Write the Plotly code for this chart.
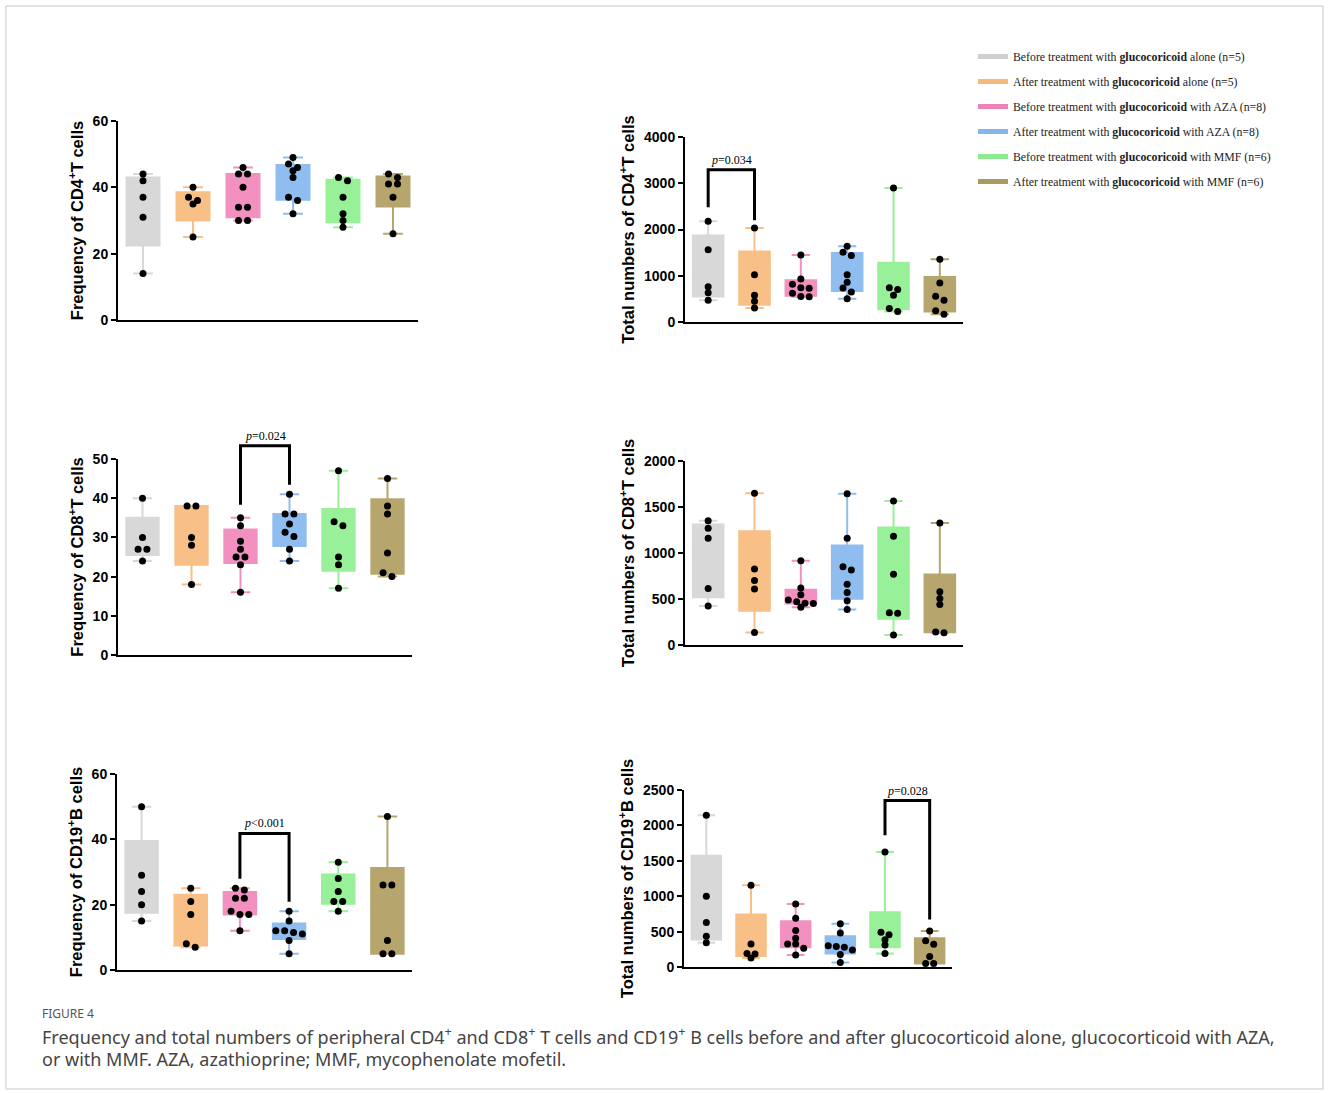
import numpy as np
import plotly.graph_objects as go

W, H = 1330, 1093

# ---------------- data ----------------
group_names = [
    "Before treatment with <b>glucocoricoid</b> alone (n=5)",
    "After treatment with <b>glucocoricoid</b> alone (n=5)",
    "Before treatment with <b>glucocoricoid</b> with AZA (n=8)",
    "After treatment with <b>glucocoricoid</b> with AZA (n=8)",
    "Before treatment with <b>glucocoricoid</b> with MMF (n=6)",
    "After treatment with <b>glucocoricoid</b> with MMF (n=6)",
]
fill_colors = ["#d8d8d8", "#f8bf86", "#f291c0", "#90bdef", "#98f198", "#b6a66e"]
legend_colors = ["#cfcfcf", "#f5b77a", "#ee84b6", "#86b5ea", "#8eea8e", "#a99b5f"]

cd4_freq = [[44, 42, 37, 31, 14], [40, 37, 36, 35, 25], [46, 44, 44, 40, 34, 34, 30, 30],
            [49, 47, 46, 45, 43, 37, 36, 32], [43, 42, 37, 32, 30, 28], [44, 43, 41, 41, 37, 26]]
cd4_total = [[2180, 1560, 760, 630, 470], [2030, 1020, 580, 450, 300],
             [1450, 930, 815, 740, 730, 620, 550, 545], [1640, 1510, 1440, 1020, 860, 735, 650, 505],
             [2900, 740, 700, 580, 290, 225], [1355, 845, 555, 470, 245, 165]]
cd8_freq = [[40, 30, 27, 27, 24], [38, 38, 30, 28, 18], [35, 33, 29, 27, 25, 25, 23, 16],
            [41, 36, 36, 33.4, 31.3, 30.2, 27, 24], [47, 34, 33, 25, 23, 17], [45, 38, 36, 26, 21, 20]]
cd8_total = [[1350, 1270, 1160, 615, 425], [1650, 825, 700, 610, 137],
             [915, 620, 545, 490, 470, 455, 450, 410], [1645, 1160, 850, 815, 660, 570, 480, 387],
             [1565, 1183, 770, 351, 345, 109], [1327, 580, 506, 441, 140, 134]]
cd19_freq = [[50, 29, 24, 20, 15], [25, 21, 17, 8, 7], [25, 24.5, 22, 22, 18, 17, 17, 12],
             [18, 15, 12, 12, 11.5, 11, 9, 5], [33, 28, 24, 21, 21, 18], [47, 26, 26, 9, 5, 5]]
cd19_total = [[2145, 1000, 627, 434, 344], [1155, 325, 190, 185, 127],
              [890, 690, 515, 405, 325, 325, 265, 170], [610, 480, 300, 290, 280, 240, 175, 65],
              [1625, 490, 455, 385, 310, 190], [510, 370, 320, 150, 50, 50]]

y_titles = ["Frequency of CD4<sup>+</sup>T cells", "Total numbers of CD4<sup>+</sup>T cells",
            "Frequency of CD8<sup>+</sup>T cells", "Total numbers of CD8<sup>+</sup>T cells",
            "Frequency of CD19<sup>+</sup>B cells", "Total numbers of CD19<sup>+</sup>B cells"]
y_max = [60, 4000, 50, 2000, 60, 2500]
y_dtick = [20, 1000, 10, 500, 20, 500]

# significance brackets: (panel, left group, right group, left leg end, right leg end, top, label)
brackets = [
    (2, 0, 1, 2480, 2200, 3290, "<i>p</i>=0.034"),
    (3, 2, 3, 38.3, 43.4, 53.4, "<i>p</i>=0.024"),
    (5, 2, 3, 27.9, 20.9, 41.8, "<i>p</i><0.001"),
    (6, 4, 5, 1860, 670, 2350, "<i>p</i>=0.028"),
]

panel_data = [cd4_freq, cd4_total, cd8_freq, cd8_total, cd19_freq, cd19_total]

# ---------------- layout geometry (pixels) ----------------
panel_px = [  # x0, x1, ytop, ybottom
    (118, 418, 121, 320),
    (685, 963, 137, 322),
    (118, 412, 459, 655),
    (685, 963, 461, 645),
    (117, 412, 774, 970),
    (684, 952, 790, 967),
]


def swarm_offsets(vals, ymax):
    vals = np.asarray(vals, dtype=float)
    order = np.argsort(-vals)
    offs = np.zeros(len(vals))
    thr = ymax * 0.025
    clusters = []
    for idx in order:
        if clusters and abs(vals[clusters[-1][0]] - vals[idx]) <= thr:
            clusters[-1].append(idx)
        else:
            clusters.append([idx])
    step = 0.09
    for c in clusters:
        n = len(c)
        for k, idx in enumerate(c):
            offs[idx] = (k - (n - 1) / 2) * 2 * step if n > 1 else 0.0
    return offs


fig = go.Figure()
layout = dict(
    width=W, height=H, autosize=False,
    margin=dict(l=0, r=0, t=0, b=0, autoexpand=False),
    paper_bgcolor="white", plot_bgcolor="white",
    showlegend=True,
)

for p in range(6):
    k = p + 1
    xs = "x" if k == 1 else f"x{k}"
    ys = "y" if k == 1 else f"y{k}"
    x0, x1, yt, yb = panel_px[p]
    data = panel_data[p]
    for g, pts in enumerate(data):
        arr = np.asarray(pts, dtype=float)
        q1 = float(np.percentile(arr, 25, method="weibull"))
        q3 = float(np.percentile(arr, 75, method="weibull"))
        med = float(np.percentile(arr, 50, method="weibull"))
        fig.add_trace(go.Box(
            x=[g], q1=[q1], median=[med], q3=[q3],
            lowerfence=[float(arr.min())], upperfence=[float(arr.max())],
            width=0.66, whiskerwidth=0.6, boxpoints=False,
            fillcolor=fill_colors[g], line=dict(color=fill_colors[g], width=2),
            xaxis=xs, yaxis=ys, showlegend=False, hoverinfo="skip",
        ))
    for g, pts in enumerate(data):
        offs = swarm_offsets(pts, y_max[p])
        fig.add_trace(go.Scatter(
            x=g + offs, y=pts, mode="markers",
            marker=dict(color="black", size=7),
            xaxis=xs, yaxis=ys, showlegend=False, cliponaxis=False, hoverinfo="skip",
        ))
    xkey = "xaxis" if k == 1 else f"xaxis{k}"
    ykey = "yaxis" if k == 1 else f"yaxis{k}"
    layout[xkey] = dict(
        domain=[x0 / W, x1 / W], anchor=ys, range=[-0.5, 5.5], automargin=False,
        showline=True, linecolor="black", linewidth=2, showticklabels=False,
        ticks="", showgrid=False, zeroline=False, fixedrange=True,
    )
    layout[ykey] = dict(
        domain=[1 - yb / H, 1 - yt / H], anchor=xs, range=[0, y_max[p]], automargin=False,
        tickmode="linear", tick0=0, dtick=y_dtick[p],
        showline=True, linecolor="black", linewidth=2,
        ticks="outside", ticklen=5, tickwidth=2, tickcolor="black",
        tickfont=dict(family="Liberation Sans", size=14, color="black", weight="bold"),
        title=dict(text=y_titles[p], standoff=5,
                   font=dict(family="Liberation Sans", size=16.5, color="black", weight="bold")),
        showgrid=False, zeroline=False, fixedrange=True,
    )

# legend entries
for g in range(6):
    fig.add_trace(go.Scatter(
        x=[None], y=[None], mode="lines", name=group_names[g],
        line=dict(color=legend_colors[g], width=5), legendgroup=f"g{g}",
        showlegend=True, hoverinfo="skip",
    ))

layout["legend"] = dict(
    x=973 / W, y=1 - 42 / H, xanchor="left", yanchor="top",
    font=dict(family="Liberation Serif", size=11.8, color="#222"),
    bgcolor="rgba(0,0,0,0)", traceorder="grouped", tracegroupgap=6,
    itemwidth=30,
)

shapes = []
annotations = []
for (p, ga, gb, ya, yb_, top, label) in brackets:
    xs = "x" if p == 1 else f"x{p}"
    yd = ("y" if p == 1 else f"y{p}") + " domain"
    m = y_max[p - 1]
    path = f"M {ga},{ya / m} L {ga},{top / m} L {gb},{top / m} L {gb},{yb_ / m}"
    shapes.append(dict(type="path", xref=xs, yref=yd, path=path,
                       line=dict(color="black", width=3)))
    annotations.append(dict(
        x=(ga + gb) / 2, y=top / m, xref=xs, yref=yd, text=label, showarrow=False,
        yanchor="bottom", yshift=1,
        font=dict(family="Liberation Serif", size=12, color="black"),
    ))

# outer card border
shapes.append(dict(type="rect", xref="paper", yref="paper",
                   x0=6 / W, x1=1323 / W, y0=1 - 1089 / H, y1=1 - 6 / H,
                   line=dict(color="#c8c8c8", width=1)))

annotations.append(dict(x=40 / W, y=1 - 1013 / H, xref="paper", yref="paper",
                        xanchor="left", yanchor="middle", showarrow=False,
                        text="FIGURE 4",
                        font=dict(family="Noto Sans", size=12, color="#555")))
annotations.append(dict(x=40 / W, y=1 - 1036 / H, xref="paper", yref="paper",
                        xanchor="left", yanchor="middle", showarrow=False,
                        text="Frequency and total numbers of peripheral CD4<sup>+</sup> and CD8<sup>+</sup> T cells and CD19<sup>+</sup> B cells before and after glucocorticoid alone, glucocorticoid with AZA,",
                        font=dict(family="Noto Sans", size=18, color="#444")))
annotations.append(dict(x=40 / W, y=1 - 1059 / H, xref="paper", yref="paper",
                        xanchor="left", yanchor="middle", showarrow=False,
                        text="or with MMF. AZA, azathioprine; MMF, mycophenolate mofetil.",
                        font=dict(family="Noto Sans", size=18, color="#444")))

layout["shapes"] = shapes
layout["annotations"] = annotations
fig.update_layout(**layout)
fig.write_html(
    "out.html",
    config={"displayModeBar": False},
    post_script="document.body.style.margin='0';document.body.style.overflow='hidden';",
)
